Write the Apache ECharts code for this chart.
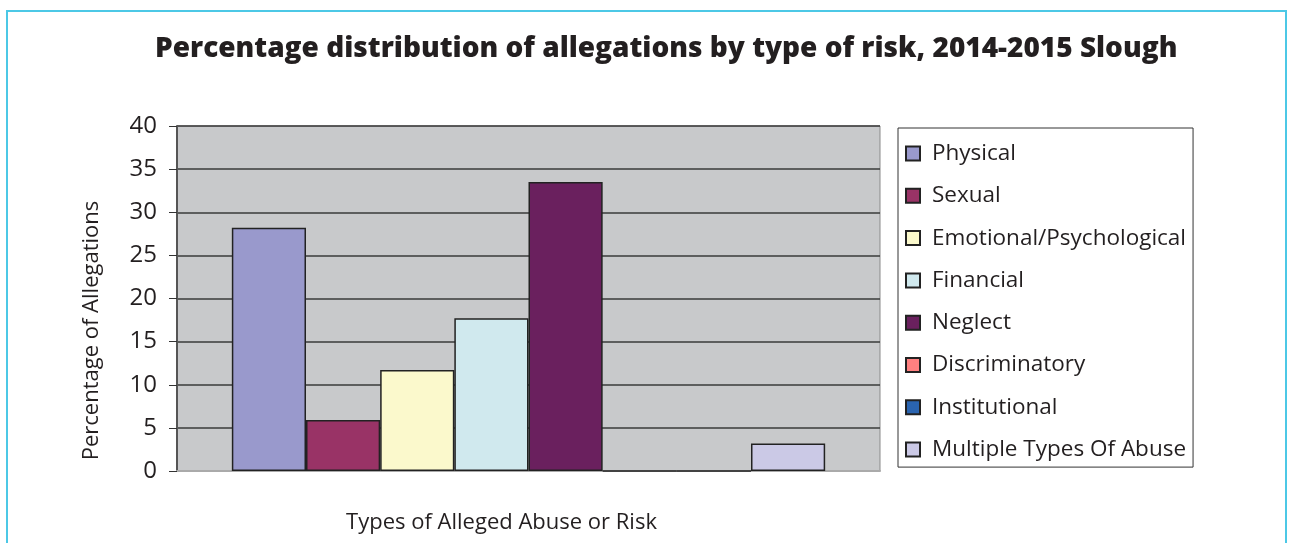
<!DOCTYPE html>
<html>
<head>
<meta charset="utf-8">
<script src="https://cdn.jsdelivr.net/npm/echarts@6/dist/echarts.min.js"></script>
<style>
  html, body { margin: 0; padding: 0; background: #fff; }
  #frame {
    position: absolute; left: 6px; top: 10px; width: 1281px; height: 560px;
    border: 2px solid #4cc8e6; box-sizing: border-box;
  }
  #chart { position: absolute; left: 0; top: 0; width: 1296px; height: 543px; }
</style>
</head>
<body>
<div id="frame"></div>
<div id="chart"></div>
<script>
  // one category, one series per type of risk
  var categories = ['']
  var seriesNames = ['Physical', 'Sexual', 'Emotional/Psychological', 'Financial',
    'Neglect', 'Discriminatory', 'Institutional', 'Multiple Types Of Abuse']
  var seriesValues = [28.2, 5.9, 11.7, 17.7, 33.5, 0, 0, 3.2]
  var seriesColors = ['#9999cc', '#993366', '#fbf9cc', '#d0e9ee',
    '#6a205e', '#ff8080', '#2a64b0', '#cbc9e6']
  var yTicks = { min: 0, max: 40, interval: 5 }

  var font = 'Open Sans'
  var chart = echarts.init(document.getElementById('chart'))

  var series = seriesNames.map(function (name, i) {
    return {
      name: name,
      type: 'bar',
      barGap: '0%',
      barCategoryGap: '15.6%',
      data: [seriesValues[i]],
      itemStyle: { color: seriesColors[i], borderColor: '#222', borderWidth: 1.5 }
    }
  })

  var option = {
    animation: false,
    backgroundColor: 'transparent',
    title: {
      text: 'Percentage distribution of allegations by type of risk, 2014-2015 Slough',
      left: 150,
      top: 30,
      textStyle: { fontFamily: font, fontWeight: 800, fontSize: 28, color: '#231f20' }
    },
    legend: {
      orient: 'vertical',
      left: 898,
      top: 128,
      padding: [14, 7, 6, 7],
      backgroundColor: '#fff',
      borderColor: '#333',
      borderWidth: 1,
      itemWidth: 14,
      itemHeight: 14,
      itemGap: 19.3,
      icon: 'rect',
      textStyle: { fontFamily: font, fontSize: 22.5, color: '#231f20', lineHeight: 22, padding: [0, 0, 0, 7] },
      data: seriesNames
    },
    grid: {
      left: 177, right: 416, top: 126, bottom: 72,
      outerBoundsMode: 'none',
      show: true, backgroundColor: '#c8c9cb', borderColor: '#8a8a8a', borderWidth: 1
    },
    xAxis: {
      type: 'category',
      data: categories,
      name: 'Types of Alleged Abuse or Risk',
      nameLocation: 'middle',
      nameGap: 41,
      nameTextStyle: { fontFamily: font, fontSize: 22, color: '#231f20', padding: [0, 54, 0, 0] },
      axisLine: { lineStyle: { color: '#aaaaaa', width: 2 } },
      axisTick: { show: false },
      axisLabel: { show: false }
    },
    yAxis: {
      type: 'value',
      min: yTicks.min,
      max: yTicks.max,
      interval: yTicks.interval,
      name: 'Percentage of Allegations',
      nameLocation: 'middle',
      nameGap: 74,
      nameTextStyle: { fontFamily: font, fontSize: 22, color: '#231f20', padding: [0, 64, 0, 0] },
      axisLine: { show: true, lineStyle: { color: '#555', width: 2 } },
      axisTick: { show: true, length: 8, lineStyle: { color: '#333' } },
      axisLabel: { fontFamily: font, fontSize: 24, color: '#231f20', margin: 20 },
      splitLine: { lineStyle: { color: '#3a3a3a', width: 1.5 } }
    },
    series: series
  }
  chart.setOption(option)
</script>
</body>
</html>
